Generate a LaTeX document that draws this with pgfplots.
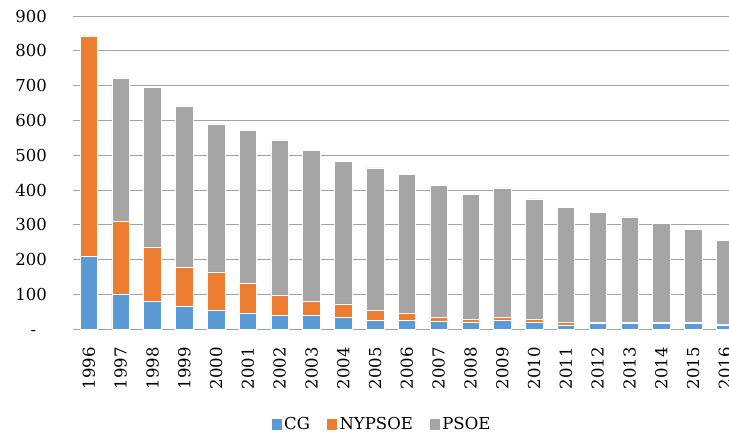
\documentclass[border=0pt]{standalone}
\usepackage{fontspec}
\setmainfont{DejaVu Serif}
\usepackage{pgfplots}
\usepackage{pgfplotstable}
\pgfplotsset{compat=1.18}
\definecolor{cgblue}{HTML}{5B9BD5}
\definecolor{nyorange}{HTML}{ED7D31}
\definecolor{psgray}{HTML}{A5A5A5}
\definecolor{gridc}{HTML}{A3A3A3}

\pgfplotstableread{
x CG NY PS
0 210 633 0
1 102 209 411
2 81 156 459
3 66 111 465
4 56 109 425
5 47 86 439
6 39 58 447
7 39 42 433
8 34 39 410
9 26 30 408
10 26 19 401
11 23 12 378
12 19 10 359
13 25 10 371
14 19 10 346
15 12 7 332
16 16 4 316
17 16 4 303
18 16 4 285
19 16 4 266
20 13 1 242
}\data

\begin{document}
\begin{tikzpicture}
\begin{axis}[
  scale only axis, width=667.8pt, height=313.3pt,
  xmin=-0.5, xmax=20.5, ymin=0, ymax=900,
  ybar stacked, bar width=17.5pt,
  axis line style={opacity=0, draw=none},
  tick style={draw=none},
  major tick length=0pt,
  ymajorgrids, xmajorgrids=false, grid style={gridc, line width=0.8pt, line cap=butt},
  xtick={0,...,20},
  xticklabels={1996,1997,1998,1999,2000,2001,2002,2003,2004,2005,2006,2007,2008,2009,2010,2011,2012,2013,2014,2015,2016},
  ytick={0,100,...,900},
  yticklabels={{-\phantom{0}},100,200,300,400,500,600,700,800,900},
  /pgf/number format/assume math mode=true,
  yticklabel style={anchor=east, inner sep=0pt, xshift=-26pt, font=\fontsize{16.5}{19}\selectfont},
  xticklabel style={yshift=-17.7pt, rotate=90, anchor=east, inner sep=0pt, font=\fontsize{16.5}{19}\selectfont},
  legend style={at={(0.462,-0.302)}, anchor=center, draw=none, fill=none,
    legend columns=-1, font=\fontsize{16.5}{19}\selectfont,
    /tikz/every even column/.append style={column sep=14pt},
    nodes={inner sep=2pt}},
  legend image code/.code={\fill[#1] (0pt,-6pt) rectangle (11pt,6pt);},
]
\coordinate (O) at (rel axis cs:0,0);
\addplot[fill=cgblue, draw=white, line width=0.5pt] table[x=x,y=CG]{\data};
\addplot[fill=nyorange, draw=white, line width=0.5pt] table[x=x,y=NY]{\data};
\addplot[fill=psgray, draw=white, line width=0.5pt] table[x=x,y=PS]{\data};
\legend{CG,NYPSOE,PSOE}
\end{axis}
\pgfresetboundingbox
\path (O) ++(-73pt,-106.7pt) rectangle ++(729pt,436pt);
\end{tikzpicture}
\end{document}
